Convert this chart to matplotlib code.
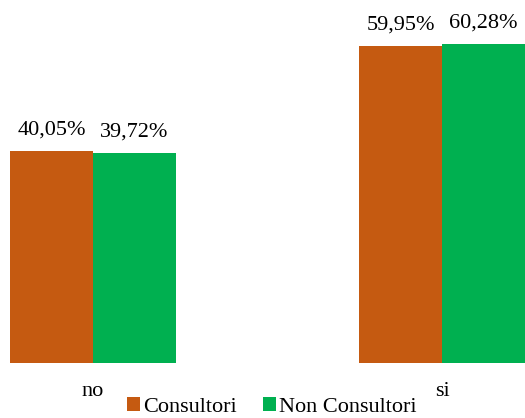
import matplotlib
matplotlib.use("Agg")
import matplotlib.pyplot as plt
import numpy as np

categories = ['no', 'si']
consultori = [40.05, 59.95]
non_consultori = [39.72, 60.28]
labels_c = ['40,05%', '59,95%']
labels_nc = ['39,72%', '60,28%']

plt.rcParams['font.family'] = ['Liberation Serif', 'DejaVu Serif']

fig = plt.figure(figsize=(5.25, 4.18), dpi=100)
ax = fig.add_axes([0, 55 / 418, 1, 363 / 418])

x = np.arange(len(categories))
w = 0.238
b1 = ax.bar(x - w / 2, consultori, w, color='#C55A11', label='Consultori')
b2 = ax.bar(x + w / 2, non_consultori, w, color='#00B050', label='Non Consultori')

for bars, labs in ((b1, labels_c), (b2, labels_nc)):
    for r, lab in zip(bars, labs):
        ax.annotate(lab, (r.get_x() + r.get_width() / 2, r.get_height()),
                    xytext=(0, 8), textcoords='offset points',
                    ha='center', va='bottom', fontsize=16)

ax.set_xlim(-0.2665, 1.2378)
ax.set_ylim(0, 68.6)
ax.set_xticks(x)
ax.set_xticklabels(categories, fontsize=16)
ax.tick_params(axis='x', length=0, pad=14)
ax.set_yticks([])
for s in ax.spines.values():
    s.set_visible(False)

fig.legend(loc='lower center', bbox_to_anchor=(0.518, -0.045), ncol=2, frameon=False,
           fontsize=16, handlelength=0.6, handleheight=0.6, handletextpad=0.15,
           columnspacing=1.15)

fig.savefig('out.png', dpi=100)
